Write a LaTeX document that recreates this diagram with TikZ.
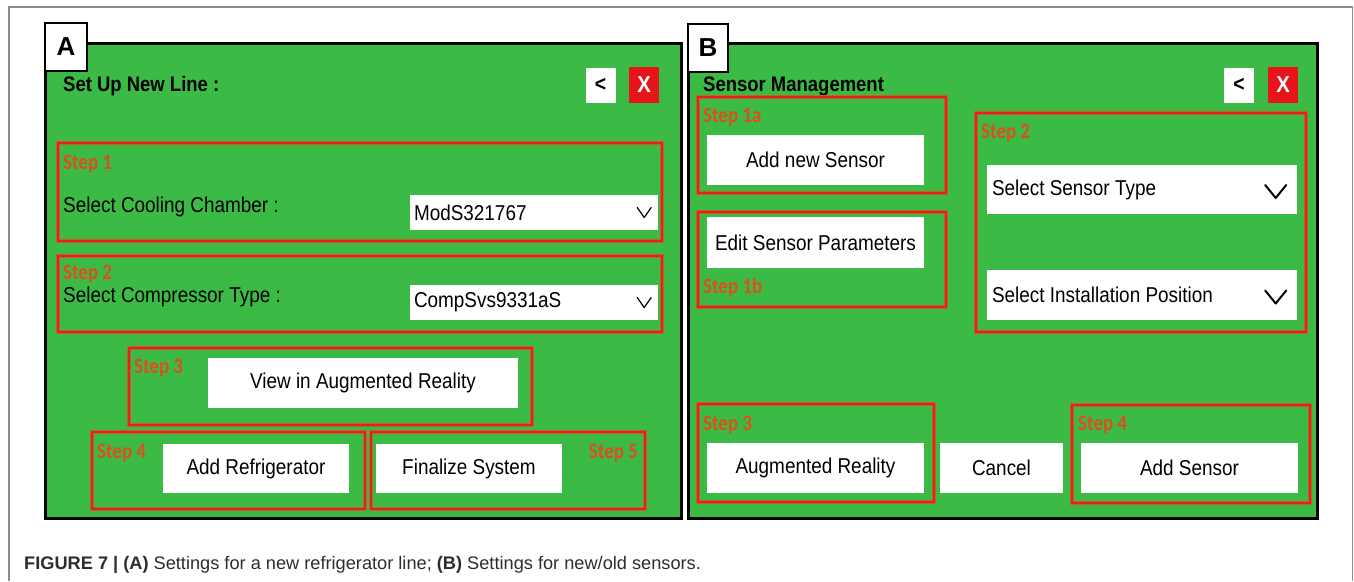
\documentclass[tikz,border=0pt]{standalone}
\usepackage{fontspec}
\setmainfont{Liberation Sans}[FakeStretch=0.88]
\newfontfamily\stepfont{Carlito}[FakeStretch=0.86]
\newfontfamily\plainfont{Liberation Sans}
\usetikzlibrary{positioning}
\definecolor{panelgreen}{RGB}{60,186,70}
\definecolor{stepred}{RGB}{235,28,36}
\definecolor{stephalo}{RGB}{185,105,30}
\definecolor{steporange}{RGB}{222,78,28}
\definecolor{closered}{RGB}{232,20,28}
\definecolor{framegray}{RGB}{140,140,140}
\definecolor{captiongray}{RGB}{45,45,45}
\tikzset{
  every node/.style={font=\fontsize{21.5}{24}\selectfont, inner sep=0pt},
  panel/.style={draw=black, line width=3pt, fill=panelgreen,
    minimum width=634pt, minimum height=475pt},
  tabbox/.style={draw=black, line width=1.5pt, fill=white,
    minimum width=42pt, minimum height=48pt,
    font=\plainfont\bfseries\fontsize{26}{28}\selectfont},
  title/.style={anchor=west, font=\bfseries\fontsize{21}{24}\selectfont},
  field/.style={anchor=west},
  stepbox/.style={draw=stephalo, line width=0.9pt, double=stepred,
    double distance=2.4pt},
  steplabel/.style={anchor=west, text=steporange,
    font=\stepfont\bfseries\fontsize{22}{24}\selectfont},
  button/.style={fill=white, minimum width=217pt, minimum height=50pt},
  dropdown/.style={fill=white, minimum height=35pt},
  backbtn/.style={fill=white, minimum width=30pt, minimum height=35pt,
    font=\bfseries\fontsize{22}{24}\selectfont},
  closebtn/.style={fill=closered, text=white, minimum width=30pt,
    minimum height=36pt, font=\bfseries\fontsize{23}{24}\selectfont},
  chev/.style={line width=1.2pt, line cap=round, line join=round},
  bigchev/.style={line width=2pt, line cap=round, line join=round}
}

\begin{document}
\begin{tikzpicture}[x=1pt, y=-1pt]
  \useasboundingbox (0,0) rectangle (1354,581);

  \draw[framegray, line width=1.2pt] (9,581) -- (9,7) -- (1352.5,7) -- (1352.5,581);

  % panel A
  \node[panel, minimum width=636pt] (panelA) at (363,280.5) {};
  \node[tabbox] (tabA) at (66,47) {A};
  \node[title] (titleA) at (63,86) {Set Up New Line :};
  \node[backbtn] (backA) at (600.5,85) {<};
  \node[closebtn] (closeA) at (644,85) {X};

  \node[stepbox, minimum width=604pt, minimum height=98pt] (stepA1) at (360,192) {};
  \node[steplabel] (labA1) at (63,164) {Step 1};
  \node[field] (chamber) at (63,207) {Select Cooling Chamber :};
  \node[dropdown, minimum width=248pt] (ddA1) at (534,212.5) {};
  \node[field] (ddA1text) at ([xshift=4pt]ddA1.west) {ModS321767};
  \draw[chev] ([xshift=-21pt,yshift=5pt]ddA1.east) -- ++(7,10) -- ++(7,-10);

  \node[stepbox, minimum width=604pt, minimum height=76pt] (stepA2) at (360,294) {};
  \node[steplabel] (labA2) at (63,274) {Step 2};
  \node[field] (compressor) at (63,297) {Select Compressor Type :};
  \node[dropdown, minimum width=248pt] (ddA2) at (534,302.5) {};
  \node[field] (ddA2text) at ([xshift=4pt]ddA2.west) {CompSvs9331aS};
  \draw[chev] ([xshift=-21pt,yshift=5pt]ddA2.east) -- ++(7,10) -- ++(7,-10);

  \node[stepbox, minimum width=403pt, minimum height=77pt] (stepA3) at (330.5,386.5) {};
  \node[steplabel] (labA3) at (134,368) {Step 3};
  \node[button, minimum width=310pt] (viewAR) at (363,383) {View in Augmented Reality};

  \node[stepbox, minimum width=273pt, minimum height=77pt] (stepA4) at (228.5,470.5) {};
  \node[steplabel] (labA4) at (97,453) {Step 4};
  \node[button, minimum width=186pt, minimum height=49pt] (addRef) at (256,468.5) {Add Refrigerator};

  \node[stepbox, minimum width=274pt, minimum height=77pt] (stepA5) at (508,470.5) {};
  \node[steplabel, anchor=east] (labA5) at (638,453) {Step 5};
  \node[button, minimum width=186pt, minimum height=49pt] (finalize) at (469,468.5) {Finalize System};

  % panel B
  \node[panel, minimum width=629pt] (panelB) at (1002.5,280.5) {};
  \node[tabbox, minimum width=40pt] (tabB) at (708,48) {B};
  \node[title] (titleB) at (703,86) {Sensor Management};
  \node[backbtn] (backB) at (1239,85) {<};
  \node[closebtn] (closeB) at (1283,85) {X};

  \node[stepbox, minimum width=248pt, minimum height=96pt] (stepB1a) at (822,145) {};
  \node[steplabel] (labB1a) at (703,117) {Step 1a};
  \node[button] (addNew) at (815.5,160) {Add new Sensor};

  \node[stepbox, minimum width=248pt, minimum height=95pt] (stepB1b) at (822,259.5) {};
  \node[button, minimum height=51pt] (editPar) at (815.5,242.5) {Edit Sensor Parameters};
  \node[steplabel] (labB1b) at (703,288) {Step 1b};

  \node[stepbox, minimum width=330pt, minimum height=219pt] (stepB2) at (1141,222.5) {};
  \node[steplabel] (labB2) at (981,133) {Step 2};
  \node[dropdown, minimum width=310pt, minimum height=49pt] (ddB1) at (1142,189.5) {};
  \node[field] (ddB1text) at ([xshift=5pt]ddB1.west) {Select Sensor Type};
  \draw[bigchev] ([xshift=-32pt,yshift=4.5pt]ddB1.east) -- ++(10.5,13) -- ++(10.5,-13);
  \node[dropdown, minimum width=310pt, minimum height=50pt] (ddB2) at (1142,295) {};
  \node[field] (ddB2text) at ([xshift=5pt]ddB2.west) {Select Installation Position};
  \draw[bigchev] ([xshift=-32pt,yshift=4.5pt]ddB2.east) -- ++(10.5,13) -- ++(10.5,-13);

  \node[stepbox, minimum width=236pt, minimum height=98pt] (stepB3) at (816,453) {};
  \node[steplabel] (labB3) at (703,425) {Step 3};
  \node[button] (augReal) at (815.5,468) {Augmented Reality};
  \node[button, minimum width=123pt] (cancel) at (1001.5,468) {Cancel};

  \node[stepbox, minimum width=238pt, minimum height=98pt] (stepB4) at (1191,454) {};
  \node[steplabel] (labB4) at (1078,425) {Step 4};
  \node[button] (addSensor) at (1189.5,468) {Add Sensor};

  \node[anchor=west, text=captiongray, font=\plainfont\fontsize{18.2}{20}\selectfont]
    (caption) at (24,565) {\textbf{FIGURE 7 | (A)} Settings for a new refrigerator line; \textbf{(B)} Settings for new/old sensors.};
\end{tikzpicture}
\end{document}
